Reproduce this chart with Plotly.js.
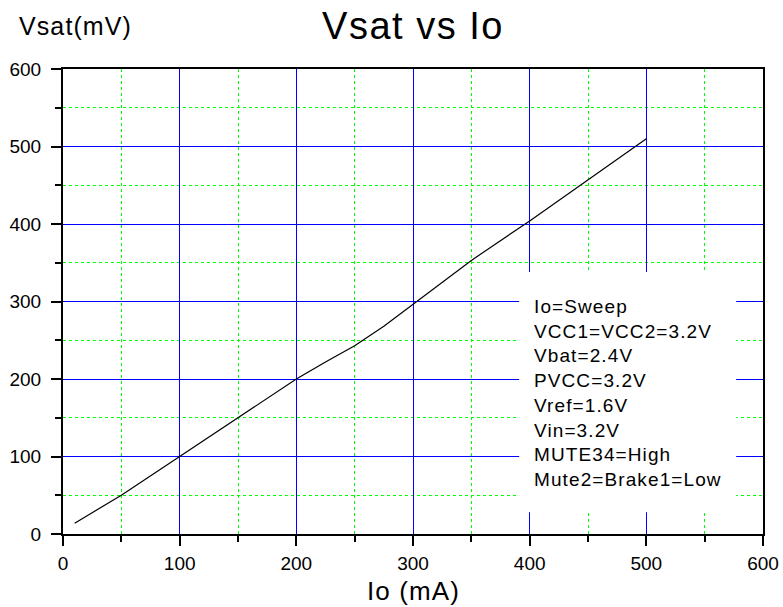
<!DOCTYPE html>
<html>
<head>
<meta charset="utf-8">
<script src="https://cdn.plot.ly/plotly-3.0.1.min.js"></script>
<style>
html,body{margin:0;padding:0;background:#fff;}
#chart{width:783px;height:607px;}
.gtitle{letter-spacing:1.5px;}
.annotation-text{letter-spacing:1.1px;}
</style>
</head>
<body>
<div id="chart"></div>
<script>
// Data
const ioMA = [10, 50, 100, 150, 200, 225, 250, 275, 300, 325, 350, 400, 450, 500];
const vsatMV = [14, 50, 100, 150, 200, 222, 243, 268, 296, 324, 353, 404, 457, 510];
const conditions = [
  "Io=Sweep",
  "VCC1=VCC2=3.2V",
  "Vbat=2.4V",
  "PVCC=3.2V",
  "Vref=1.6V",
  "Vin=3.2V",
  "MUTE34=High",
  "Mute2=Brake1=Low"
];
const chartTitle = "Vsat vs Io";
const xTitle = "Io (mA)";
const yTitle = "Vsat(mV)";

const FONT = "Arial, 'Liberation Sans', sans-serif";

const axisCommon = {
  range: [0, 600],
  dtick: 100,
  tick0: 0,
  showline: true,
  linecolor: "black",
  linewidth: 2,
  mirror: true,
  ticks: "outside",
  tickcolor: "black",
  tickwidth: 2,
  ticklen: 10,
  showgrid: true,
  gridcolor: "#0000ff",
  gridwidth: 1,
  zeroline: false,
  tickfont: {family: FONT, size: 19, color: "black"},
  fixedrange: true,
  minor: {
    dtick: 50,
    showgrid: true,
    gridcolor: "#00ff00",
    griddash: "dot",
    gridwidth: 1,
    ticks: "outside",
    ticklen: 6,
    tickcolor: "black",
    tickwidth: 2
  }
};

const trace = {
  x: ioMA,
  y: vsatMV,
  type: "scatter",
  mode: "lines",
  line: {color: "black", width: 1.2},
  hoverinfo: "x+y",
  showlegend: false
};

const layout = {
  width: 783,
  height: 607,
  margin: {l: 63, r: 20, t: 69, b: 73},
  paper_bgcolor: "white",
  plot_bgcolor: "white",
  font: {family: FONT, color: "black"},
  title: {
    text: chartTitle,
    font: {family: FONT, size: 38, color: "black"},
    x: 0.5, xref: "paper", xanchor: "center",
    y: 1 - 26 / 607, yref: "container", yanchor: "middle"
  },
  xaxis: Object.assign({}, axisCommon, {ticklabelstandoff: 1}),
  yaxis: Object.assign({}, axisCommon, {ticklabelstandoff: 6}),
  shapes: [{
    type: "rect", xref: "x", yref: "y",
    x0: 391, x1: 577, y0: 28, y1: 338,
    fillcolor: "white", line: {width: 0}, layer: "between"
  }],
  annotations: [
    {
      text: conditions.join("<br>"),
      xref: "x", yref: "y", x: 402, y: 182,
      xanchor: "left", yanchor: "middle", align: "left",
      showarrow: false,
      font: {family: FONT, size: 19, color: "black"}
    },
    {
      text: yTitle,
      xref: "paper", yref: "paper", x: (75.5 - 63) / 700, y: (534 - 26) / 465,
      xanchor: "center", yanchor: "middle", showarrow: false,
      font: {family: FONT, size: 25, color: "black"}
    },
    {
      text: xTitle,
      xref: "paper", yref: "paper", x: 0.5, y: (534 - 591) / 465,
      xanchor: "center", yanchor: "middle", showarrow: false,
      font: {family: FONT, size: 26, color: "black"}
    }
  ]
};

Plotly.newPlot("chart", [trace], layout, {displayModeBar: false, staticPlot: false});
</script>
</body>
</html>
